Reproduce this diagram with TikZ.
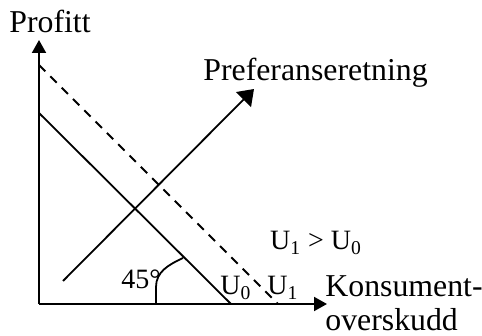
\documentclass[tikz,border=0pt]{standalone}
\usepackage{fontspec}
\setmainfont{Liberation Serif}
\usetikzlibrary{positioning,arrows.meta}

\begin{document}
\begin{tikzpicture}[x=0.5pt, y=-0.5pt,
      ax/.style={-{Triangle[length=6.5pt, width=7pt]}, line width=1pt},
      pref/.style={-{Triangle[length=7.5pt, width=10.5pt]}, line width=0.9pt},
      curve/.style={line width=0.9pt},
      big/.style={font=\fontsize{15.9}{18}\selectfont, inner sep=0pt},
      small/.style={font=\fontsize{14}{16}\selectfont, inner sep=0pt}]
    \useasboundingbox (0,0) rectangle (482,336);
    % axes
    \coordinate (O) at (39,304);
    \coordinate (ytip) at (39,40);
    \coordinate (xtip) at (327,304);
    \draw[ax] (O) -- (ytip);
    \draw[ax] (O) -- (xtip);
    % indifference lines
    \coordinate (u0a) at (39,113);
    \coordinate (u0b) at (231,304);
    \coordinate (u1a) at (39,65);
    \coordinate (u1b) at (278,304);
    \draw[curve] (u0a) -- (u0b);
    \draw[curve, dash pattern=on 4.5pt off 3.5pt] (u1a) -- (u1b);
    % preference direction
    \coordinate (pa) at (63,281);
    \coordinate (pb) at (254,89);
    \draw[pref] (pa) -- (pb);
    % angle mark
    \coordinate (arcs) at (156,304);
    \coordinate (arce) at (183,258);
    \draw[curve] (arcs) -- ++(0,-17) .. controls (156,272) and (168,265) .. (arce);
    % labels
    \node[big, anchor=base] (profitt) at (50,33) {Profitt};
    \node[big, anchor=base west] (prefl) at (203,81) {Preferanseretning};
    \node[big, anchor=base west] (konsum) at (325,297) {Konsument-};
    \node[big, anchor=base west] (overs) at (325,330) {overskudd};
    \node[small, anchor=base] (deg) at (141,289) {45°};
    \node[small, anchor=base] (lu0) at (236,295) {U\textsubscript{0}};
    \node[small, anchor=base] (lu1) at (283,295) {U\textsubscript{1}};
    \node[small, anchor=base] (cmp) at (316,250) {U\textsubscript{1} > U\textsubscript{0}};
\end{tikzpicture}
\end{document}
